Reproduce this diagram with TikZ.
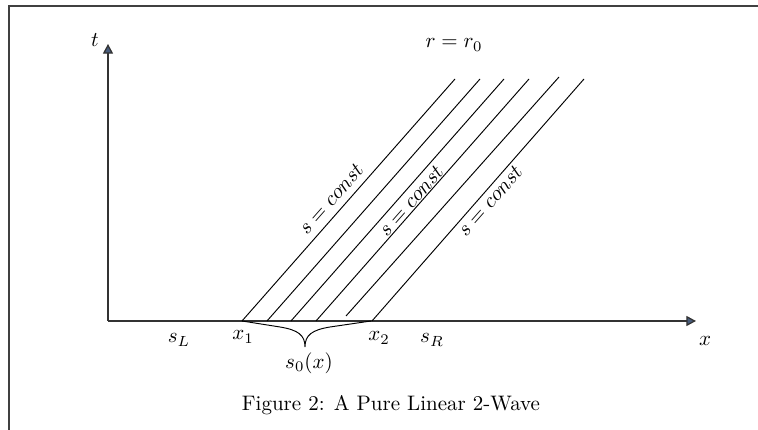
\documentclass[tikz,border=0pt]{standalone}
\usepackage{amsmath,amssymb}
\usetikzlibrary{arrows.meta}
\definecolor{tipfill}{RGB}{72,92,124}

\begin{document}
\begin{tikzpicture}[x=0.476pt, y=-0.476pt,
  axis/.style={-{Triangle[length=4.6pt,width=4.8pt,fill=tipfill]}, line width=0.6pt, black!80},
  charline/.style={line width=0.45pt}]
  \useasboundingbox (0,0) rectangle (758,430);
  \clip (0,0) rectangle (758,430);

  %% Frame
  \draw[line width=0.7pt, black!75] (9,6) rectangle (780,450);

  %% Axes
  \coordinate (O) at (108,321);
  \coordinate (tend) at (108,44);
  \coordinate (xend) at (696,321);
  \draw[axis] (O) -- (tend);
  \draw[axis] (O) -- (xend);
  \node (tlab) at (95,40) {$t$};
  \node (xlab) at (705,341) {$x$};

  %% Characteristics: s = const
  \foreach \xa/\ya/\xb/\yb in {242/321/455/79, 267/321/480/79, 291/321/504/79,
                               316/321/529/79, 346/316/559/77, 372/321/584/79}
    \draw[charline] (\xa,\ya) -- (\xb,\yb);

  \node[rotate=48.6] (sc1) at (331,199) {$s = const$};
  \node[rotate=48.6] (sc2) at (411,201) {$s = const$};
  \node[rotate=48.6] (sc3) at (490,201) {$s = const$};
  \node (rlab) at (454,45) {$r = r_0$};

  %% Labels on the x axis
  \node (sL) at (179,340) {$s_L$};
  \node (x1) at (243,337) {$x_1$};
  \node (x2) at (379,338) {$x_2$};
  \node (sR) at (432,340) {$s_R$};
  \node (s0) at (309,363) {$s_0(x)$};

  % brace under the initial interval
  \draw[charline] (242,321) -- (280,327) .. controls (298,330) and (305,335) .. (305,347)
    .. controls (305,335) and (312,330) .. (330,327) -- (371,321);

  %% Caption
  \node (cap) at (391,405) {Figure 2: A Pure Linear 2-Wave};

\end{tikzpicture}
\end{document}
